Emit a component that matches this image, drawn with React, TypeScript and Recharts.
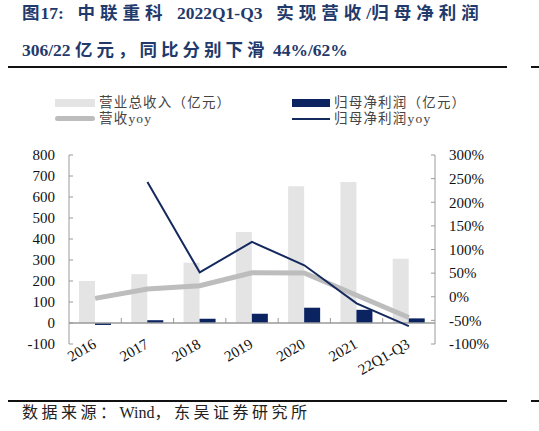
import React from 'react';
import { ComposedChart, Bar, Line, XAxis, YAxis, ReferenceLine, Legend } from 'recharts';

const categories = ['2016', '2017', '2018', '2019', '2020', '2021', '22Q1-Q3'];
const revenue = [200.2, 232.7, 287.0, 433.1, 651.1, 671.3, 306.0];
const netProfit = [-9.3, 13.3, 20.2, 43.7, 72.8, 62.7, 22.0];
const revenueYoy = [-3.5, 16.2, 23.3, 50.9, 50.3, 3.1, -44.0];
const netProfitYoy: (number | null)[] = [null, 242.6, 51.6, 116.0, 66.6, -13.9, -62.0];
const leftTicks = [-100, 0, 100, 200, 300, 400, 500, 600, 700, 800];
const rightTicks = [-100, -50, 0, 50, 100, 150, 200, 250, 300];

const seriesNames = {
  revenue: '营业总收入（亿元）',
  netProfit: '归母净利润（亿元）',
  revenueYoy: '营收yoy',
  netProfitYoy: '归母净利润yoy',
};

const data = categories.map((name, i) => ({
  name,
  revenue: revenue[i],
  netProfit: netProfit[i],
  revenueYoy: revenueYoy[i],
  netProfitYoy: netProfitYoy[i],
}));

const GRAY_BAR = '#E4E4E4';
const NAVY = '#0B2461';
const GRAY_LINE = '#BDBDBD';
const NAVY_LINE = '#14295E';
const AXIS = '#9A9A9A';
const SERIF = '"Liberation Serif", "Times New Roman", "Noto Sans CJK SC", serif';
const CJK = '"Liberation Serif", "Noto Sans CJK SC", serif';

const ZeroLine = (props: any) => {
  const { x1, y1, x2, y2 } = props;
  const n = categories.length;
  const step = (x2 - x1) / n;
  const ticks = [] as number[];
  for (let i = 1; i < n; i++) ticks.push(x1 + i * step);
  return (
    <g>
      <line x1={x1} y1={y1} x2={x2} y2={y2} stroke={AXIS} strokeWidth={1.5} />
      {ticks.map((tx, i) => (
        <line key={i} x1={tx} y1={y1} x2={tx} y2={y1 - 5} stroke={AXIS} strokeWidth={1} />
      ))}
    </g>
  );
};

const XTick = (props: any) => {
  const { x, y, payload } = props;
  return (
    <g transform={`translate(${x + 2},${y - 1})`}>
      <text
        x={0}
        y={0}
        textAnchor="end"
        transform="rotate(-30)"
        fontFamily={SERIF}
        fontSize={15}
        fill="#111"
      >
        {payload.value}
      </text>
    </g>
  );
};

const LegendContent = () => {
  const text: React.CSSProperties = {
    position: 'absolute',
    fontFamily: CJK,
    fontSize: 13.5,
    color: '#444',
    lineHeight: '16px',
    whiteSpace: 'nowrap',
    letterSpacing: 1.2,
  };
  return (
    <div style={{ position: 'relative', width: 539, height: 40 }}>
      <div style={{ position: 'absolute', left: 55, top: 7, width: 40, height: 8, background: GRAY_BAR }} />
      <div style={{ ...text, left: 99, top: 3 }}>{seriesNames.revenue}</div>
      <div style={{ position: 'absolute', left: 292, top: 7, width: 38, height: 8, background: NAVY }} />
      <div style={{ ...text, left: 334, top: 3 }}>{seriesNames.netProfit}</div>
      <div style={{ position: 'absolute', left: 55, top: 24, width: 40, height: 5, borderRadius: 2.5, background: GRAY_LINE }} />
      <div style={{ ...text, left: 99, top: 19 }}>{seriesNames.revenueYoy}</div>
      <div style={{ position: 'absolute', left: 292, top: 26, width: 38, height: 2, background: NAVY_LINE }} />
      <div style={{ ...text, left: 334, top: 19 }}>{seriesNames.netProfitYoy}</div>
    </div>
  );
};

const C = ({ children, ls = 4 }: { children: React.ReactNode; ls?: number }) => (
  <span style={{ letterSpacing: ls }}>{children}</span>
);
const L = ({ children }: { children: React.ReactNode }) => (
  <span style={{ letterSpacing: 0 }}>{children}</span>
);

export default function App() {
  return (
    <div style={{ position: 'absolute', left: 0, top: 0, width: 539, height: 431, background: '#fff', overflow: 'hidden' }}>
      <div
        style={{
          position: 'absolute',
          left: 22,
          top: 2,
          fontFamily: CJK,
          fontWeight: 'bold',
          fontSize: 17.5,
          color: '#1F3A6B',
          whiteSpace: 'nowrap',
          lineHeight: '22px',
        }}
      >
        <div>
          <C ls={1}>图</C>
          <L>17:&nbsp;</L>
          <C ls={5}>&nbsp;中联重科&nbsp;</C>
          <L>2022Q1-Q3&nbsp;</L>
          <C ls={5}>&nbsp;实现营收</C>
          <L>/</L>
          <C ls={5}>归母净利润</C>
        </div>
        <div style={{ marginTop: 15 }}>
          <L>306/22&nbsp;</L>
          <C>亿元，同比分别下滑</C>
          <L>&nbsp;44%/62%</L>
        </div>
      </div>
      <div style={{ position: 'absolute', left: 8, top: 66, width: 499, height: 2, background: '#111' }} />
      <div style={{ position: 'absolute', left: 531, top: 66, width: 8, height: 2, background: '#111' }} />

      <ComposedChart
        width={539}
        height={431}
        data={data}
        margin={{ top: 155, right: 44, bottom: 37, left: 9 }}
        barGap={0}
      >
        <XAxis
          dataKey="name"
          axisLine={false}
          tickLine={false}
          interval={0}
          height={50}
          tickSize={0}
          tickMargin={4}
          tick={<XTick />}
        />
        <YAxis
          yAxisId="left"
          orientation="left"
          domain={[-100, 800]}
          ticks={leftTicks}
          interval={0}
          width={60}
          axisLine={{ stroke: AXIS }}
          tickLine={{ stroke: AXIS }}
          tickSize={-4}
          tickMargin={18}
          tick={{ fontFamily: SERIF, fontSize: 15, fill: '#111' }}
        />
        <YAxis
          yAxisId="right"
          orientation="right"
          domain={[-100, 300]}
          ticks={rightTicks}
          interval={0}
          width={60}
          axisLine={{ stroke: AXIS }}
          tickLine={{ stroke: AXIS }}
          tickSize={-4}
          tickMargin={18}
          tickFormatter={(v: number) => `${v}%`}
          tick={{ fontFamily: SERIF, fontSize: 15, fill: '#111', textAnchor: 'start' }}
        />
        <Legend
          layout="vertical"
          align="center"
          verticalAlign="middle"
          wrapperStyle={{ position: 'absolute', left: 0, top: 92, width: 539, height: 40 }}
          content={<LegendContent />}
        />
        <Bar yAxisId="left" dataKey="revenue" name={seriesNames.revenue} fill={GRAY_BAR} barSize={16} isAnimationActive={false} />
        <Bar yAxisId="left" dataKey="netProfit" name={seriesNames.netProfit} fill={NAVY} barSize={16} isAnimationActive={false} />
        <ReferenceLine yAxisId="left" y={0} shape={<ZeroLine />} ifOverflow="extendDomain" />
        <Line
          yAxisId="right"
          dataKey="revenueYoy"
          name={seriesNames.revenueYoy}
          stroke={GRAY_LINE}
          strokeWidth={5}
          dot={false}
          isAnimationActive={false}
        />
        <Line
          yAxisId="right"
          dataKey="netProfitYoy"
          name={seriesNames.netProfitYoy}
          stroke={NAVY_LINE}
          strokeWidth={2}
          dot={false}
          connectNulls={false}
          isAnimationActive={false}
        />
      </ComposedChart>

      <div style={{ position: 'absolute', left: 8, top: 400, width: 499, height: 2, background: '#111' }} />
      <div style={{ position: 'absolute', left: 531, top: 400, width: 8, height: 2, background: '#111' }} />
      <div
        style={{
          position: 'absolute',
          left: 22,
          top: 403,
          fontFamily: CJK,
          fontSize: 16,
          color: '#222',
          whiteSpace: 'nowrap',
          lineHeight: '20px',
        }}
      >
        <C ls={3.5}>数据来源：</C>
        <L>Wind</L>
        <C ls={3.5}>，东吴证券研究所</C>
      </div>
    </div>
  );
}
